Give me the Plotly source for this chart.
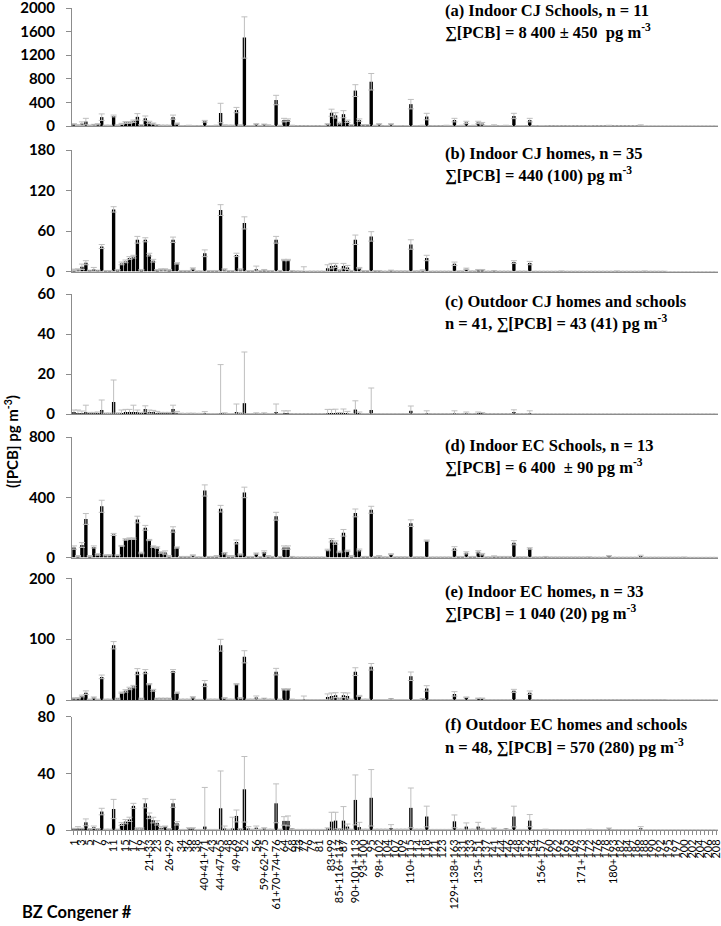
import plotly.graph_objects as go

# ---------------- data ----------------
CATEGORIES = [
    "1", "2", "3", "4", "5", "6", "7", "8", "9", "10",
    "11", "12+13", "14", "15", "16", "17", "18+30", "19", "20+28", "21+33",
    "22", "23", "24+27", "25", "26+29", "31", "32", "34", "35", "36",
    "37", "38", "39", "40+41+71", "42", "43", "45+51", "44+47+65", "46", "48",
    "50+53", "49+69", "54", "52", "55", "57", "56", "58", "59+62+75", "60",
    "63", "61+70+74+76", "66", "64", "67", "68", "72", "73", "77", "78",
    "79", "80", "81", "82", "84", "83+99", "88+91", "85+116+117", "87", "89",
    "92", "90+101+113", "94", "93+100", "96", "95", "103", "98+102", "97", "104",
    "105", "107", "106", "109", "111", "110+115", "112", "114", "120", "118",
    "122", "121", "126", "123", "128+166", "130", "129+138+163", "127", "131", "132",
    "133", "134+143", "135+151", "136", "137", "139+140", "141", "142", "144", "145",
    "146", "147+149", "148", "150", "152", "153+168", "154", "155", "156+157", "158",
    "160", "159", "162", "161", "165", "164", "169", "167", "171+173", "170",
    "172", "174", "176", "175", "178", "177", "180+193", "179", "182", "181",
    "184", "183+185", "186", "187", "188", "189", "190", "191", "192", "194",
    "195", "196", "197", "198+199", "200", "201", "202", "203", "204", "205",
    "206", "207", "208",
]

TICK_LABELS = [
    "1", "3", "5", "7", "9", "11", "15", "17", "19", "21+33", "23", "26+29",
    "34", "36", "38", "40+41+71", "43", "44+47+65", "48", "49+69", "52", "56",
    "59+62+75", "61+70+74+76", "64", "68", "73", "77", "79", "81", "83+99",
    "85+116+117", "87", "90+101+113", "93+100", "95", "98+102", "104", "107",
    "109", "110+115", "114", "118", "121", "123", "129+138+163", "131", "133",
    "135+151", "137", "141", "144", "146", "148", "152", "154", "156+157", "160",
    "162", "165", "169", "171+173", "172", "176", "178", "180+193", "182", "184",
    "186", "188", "190", "192", "195", "197", "200", "202", "204", "206", "208",
]

A_MEAN = [30, 15, 40, 75, 10, 20, 30, 150, 10, 10,
          170, 15, 35, 60, 60, 80, 155, 20, 130, 60,
          40, 20, 10, 10, 10, 150, 40, 5, 3, 10,
          5, 3, 3, 80, 5, 5, 10, 220, 15, 10,
          10, 270, 15, 1500, 5, 5, 30, 5, 25, 15,
          5, 440, 10, 100, 100, 10, 3, 2, 2, 2,
          3, 2, 2, 5, 30, 225, 180, 50, 200, 80,
          20, 600, 100, 20, 20, 750, 10, 30, 3, 5,
          30, 5, 5, 3, 5, 370, 5, 3, 10, 160,
          3, 3, 2, 2, 10, 5, 100, 5, 10, 60,
          5, 10, 60, 40, 5, 5, 15, 3, 5, 10,
          5, 170, 5, 5, 3, 100, 3, 2, 5, 3,
          1, 1, 2, 1, 1, 2, 1, 1, 2, 1,
          3, 1, 1, 1, 1, 8, 1, 1, 1, 1,
          1, 1, 1, 15, 0, 0, 0, 0, 0, 0,
          0, 0, 0, 0, 0, 0, 0, 0, 0, 0,
          0, 0, 0]
A_ERR = [10, 8, 30, 55, 5, 8, 10, 55, 5, 5,
         15, 5, 10, 15, 15, 20, 55, 5, 40, 20,
         10, 5, 5, 5, 5, 35, 10, 2, 2, 3,
         2, 2, 2, 15, 2, 2, 5, 165, 5, 5,
         5, 45, 5, 350, 2, 2, 10, 2, 8, 5,
         2, 80, 3, 30, 20, 3, 1, 1, 1, 1,
         1, 1, 1, 2, 10, 60, 45, 15, 60, 20,
         5, 100, 20, 5, 5, 140, 3, 10, 1, 2,
         10, 2, 2, 1, 2, 80, 2, 1, 3, 55,
         1, 1, 1, 1, 3, 2, 30, 2, 3, 20,
         2, 3, 20, 20, 2, 2, 5, 1, 2, 3,
         2, 45, 2, 2, 1, 30, 1, 1, 2, 1,
         1, 1, 1, 1, 1, 1, 1, 1, 1, 1,
         2, 1, 1, 1, 1, 4, 1, 1, 1, 1,
         1, 1, 1, 5, 0, 0, 0, 0, 0, 0,
         0, 0, 0, 0, 0, 0, 0, 0, 0, 0,
         0, 0, 0]

B_MEAN = [2.5, 3, 7, 13, 1, 3, 1, 37, 1, 1,
          92, 2, 12, 15, 20, 22, 47, 2, 47, 25,
          16, 2, 3, 3, 2, 47, 12, 1, 1, 1,
          4.4, 0.5, 0.5, 27, 1, 1, 1, 91, 3, 1,
          1, 24.6, 3, 72, 1, 1, 3.5, 1, 2, 1,
          1, 47, 1, 17, 17, 1, 0.5, 0.5, 0.5, 0.3,
          0.3, 0.3, 0.3, 0.3, 5, 8, 9, 2, 8, 6,
          1, 47, 5, 1, 1, 52, 1, 1, 0.3, 0.3,
          1.5, 0.5, 0.5, 0.5, 0.5, 40, 0.5, 0.5, 2, 20,
          0.3, 0.3, 0.3, 0.3, 0.3, 0.3, 11.5, 0.5, 0.5, 4,
          0.5, 0.5, 2.5, 2.5, 0.3, 0.3, 1, 0.3, 0.3, 0.3,
          0.3, 14, 0.3, 0.3, 0.3, 12.5, 0.2, 0.2, 0.2, 0.2,
          0.2, 0.2, 0.2, 0.5, 0.2, 0.2, 0.2, 0.2, 0.2, 0.2,
          0.2, 0.2, 0.2, 0.2, 0.2, 0.2, 0.2, 0.5, 0.2, 0.2,
          0.2, 0.2, 0.2, 0.2, 0.5, 0.2, 0.2, 0.2, 0.2, 0.2,
          0, 0, 0, 0, 0, 0, 0, 0, 0, 0,
          0, 0, 0]
B_ERR = [1, 1, 4, 3, 1, 3, 1, 3, 0.5, 0.5,
         4, 1, 2, 2, 2, 2, 5, 1, 3, 2,
         2, 1, 1, 1, 1, 4, 1, 0.5, 0.5, 0.5,
         1, 0.5, 0.5, 5, 0.5, 0.5, 0.5, 8, 1, 0.5,
         0.5, 2.5, 1, 9, 0.5, 0.5, 4.5, 0.5, 1, 0.5,
         0.5, 5, 0.5, 1, 1, 0.5, 0.3, 0.3, 6.5, 0.3,
         0.3, 0.3, 0.3, 0.3, 5, 4, 3, 1, 4, 3,
         0.5, 7, 1, 0.5, 0.5, 7, 0.5, 0.5, 0.3, 0.3,
         0.5, 0.5, 0.5, 0.5, 0.5, 7, 0.5, 0.5, 0.5, 4,
         0.3, 0.3, 0.3, 0.3, 0.3, 0.3, 2.5, 0.5, 0.5, 1,
         0.5, 0.5, 0.5, 0.5, 0.3, 0.3, 0.3, 0.3, 0.3, 0.3,
         0.3, 2, 0.3, 0.3, 0.3, 2.5, 0.2, 0.2, 0.2, 0.2,
         0.2, 0.2, 0.2, 0.5, 0.2, 0.2, 0.2, 0.2, 0.2, 0.2,
         0.2, 0.2, 0.2, 0.2, 0.2, 0.2, 0.2, 0.5, 0.2, 0.2,
         0.2, 0.2, 0.2, 0.2, 0.5, 0.2, 0.2, 0.2, 0.2, 0.2,
         0, 0, 0, 0, 0, 0, 0, 0, 0, 0,
         0, 0, 0]

C_MEAN = [0.8, 0.5, 0.5, 0.8, 0.3, 0.3, 0.3, 2, 0.2, 0.2,
          6, 0.3, 0.5, 0.8, 0.8, 1, 0.8, 0.3, 2.5, 1,
          0.8, 0.5, 0.3, 0.3, 0.3, 2.5, 0.5, 0.2, 0.1, 0.2,
          0.2, 0.1, 0.1, 0.3, 0.1, 0.1, 0.1, 0.5, 0.3, 0.1,
          0.1, 1, 0.3, 5.4, 0.1, 0.1, 0.3, 0.1, 0.3, 0.1,
          0.1, 1, 0.1, 0.4, 0.4, 0.05, 0.05, 0.05, 0.05, 0.05,
          0.05, 0.05, 0.05, 0.05, 0.3, 0.5, 0.4, 0.2, 0.5, 0.3,
          0.1, 2.2, 0.3, 0.1, 0.1, 2, 0.1, 0.1, 0.1, 0.1,
          0.1, 0.1, 0.1, 0.1, 0.1, 1.6, 0.1, 0.1, 0.1, 0.5,
          0.05, 0.05, 0.05, 0.05, 0.05, 0.05, 0.5, 0.05, 0.05, 0.3,
          0.05, 0.05, 0.3, 0.2, 0.05, 0.05, 0.05, 0.05, 0.05, 0.05,
          0.05, 0.8, 0.05, 0.05, 0.05, 0.5, 0, 0, 0, 0,
          0, 0, 0, 0, 0, 0, 0, 0, 0, 0,
          0, 0, 0, 0, 0, 0, 0, 0, 0, 0,
          0, 0, 0, 0, 0, 0, 0, 0, 0, 0,
          0, 0, 0, 0, 0, 0, 0, 0, 0, 0,
          0, 0, 0]
C_ERR = [1.2, 1.5, 1, 3.6, 0.5, 0.5, 0.7, 5, 0.3, 0.3,
         11, 0.3, 1.5, 1.5, 1.5, 3.4, 1.2, 0.5, 1.6, 1,
         1, 0.8, 0.5, 0.5, 0.5, 1.9, 0.8, 0.2, 0.2, 0.2,
         0.2, 0.2, 0.2, 0.9, 0.1, 0.1, 0.1, 24.2, 0.3, 0.1,
         0.1, 4, 0.3, 25.6, 0.1, 0.1, 0.3, 0.1, 0.3, 0.1,
         0.1, 4, 0.1, 1.2, 1.2, 0.1, 0.1, 0.1, 0.1, 0.1,
         0.1, 0.1, 0.1, 0.1, 2, 1.8, 2, 0.5, 2, 1,
         0.1, 4.4, 0.7, 0.1, 0.1, 11, 0.1, 0.1, 0.1, 0.1,
         0.1, 0.1, 0.1, 0.1, 0.1, 2.4, 0.1, 0.1, 0.1, 1.1,
         0.1, 0.1, 0.1, 0.1, 0.1, 0.1, 1.1, 0.1, 0.1, 0.7,
         0.1, 0.1, 0.7, 0.5, 0.1, 0.1, 0.1, 0.1, 0.1, 0.1,
         0.1, 1.3, 0.1, 0.1, 0.1, 1.1, 0, 0, 0, 0,
         0, 0, 0, 0, 0, 0, 0, 0, 0, 0,
         0, 0, 0, 0, 0, 0, 0, 0, 0, 0,
         0, 0, 0, 0, 0, 0, 0, 0, 0, 0,
         0, 0, 0, 0, 0, 0, 0, 0, 0, 0,
         0, 0, 0]

D_MEAN = [66, 10, 83, 256, 10, 70, 20, 340, 15, 15,
          153, 15, 77, 120, 125, 125, 252, 30, 197, 116,
          72, 66, 33, 33, 10, 186, 66, 5, 5, 5,
          15, 3, 3, 445, 5, 5, 10, 324, 28, 10,
          10, 103, 20, 432, 5, 5, 26, 5, 37, 10,
          5, 274, 5, 66, 66, 5, 2, 2, 2, 2,
          2, 2, 2, 2, 50, 114, 99, 37, 164, 44,
          10, 296, 50, 5, 5, 317, 5, 10, 3, 3,
          22, 3, 3, 3, 3, 228, 3, 3, 3, 112,
          2, 2, 2, 2, 2, 2, 60, 5, 5, 31,
          5, 5, 38, 22, 3, 3, 9, 5, 5, 5,
          5, 98, 3, 3, 3, 60, 2, 2, 2, 5,
          2, 2, 2, 2, 2, 2, 2, 2, 2, 2,
          3, 1, 1, 1, 1, 8, 1, 1, 1, 1,
          1, 1, 1, 8, 1, 1, 1, 1, 1, 1,
          1, 1, 1, 1, 2, 0.5, 0.5, 0.5, 0.5, 0.5,
          0.5, 0.5, 0.5]
D_ERR = [11, 3, 16, 36, 3, 7, 5, 40, 4, 4,
         7, 3, 3, 5, 5, 5, 22, 5, 16, 4,
         5, 5, 5, 11, 3, 18, 4, 2, 2, 2,
         3, 1, 1, 37, 2, 2, 3, 22, 5, 3,
         3, 13, 4, 35, 2, 2, 4, 2, 7, 3,
         2, 26, 2, 11, 11, 2, 1, 1, 1, 1,
         1, 1, 1, 1, 5, 11, 11, 5, 22, 5,
         3, 26, 6, 2, 2, 23, 2, 3, 1, 1,
         3, 1, 1, 1, 1, 22, 1, 1, 1, 4,
         1, 1, 1, 1, 1, 1, 12, 2, 2, 7,
         2, 2, 7, 5, 1, 1, 2, 2, 2, 2,
         2, 14, 1, 1, 1, 5, 1, 1, 1, 2,
         1, 1, 1, 1, 1, 1, 1, 1, 1, 1,
         1, 0.5, 0.5, 0.5, 0.5, 5, 0.5, 0.5, 0.5, 0.5,
         0.5, 0.5, 0.5, 7, 0.5, 0.5, 0.5, 0.5, 0.5, 0.5,
         0.5, 0.5, 0.5, 0.5, 1, 0.5, 0.5, 0.5, 0.5, 0.5,
         0.5, 0.5, 0.5]

E_MEAN = [2.7, 3, 6.6, 12, 1, 4, 1, 38, 1, 1,
          90, 2, 12, 15, 19, 22, 46.6, 2, 46.6, 26,
          16, 2, 2, 2, 2, 47.7, 12, 1, 1, 1,
          4.4, 0.5, 0.5, 27, 1, 1, 1, 90, 3, 1,
          1, 26, 3, 71, 1, 1, 4, 1, 2, 1,
          1, 46.6, 1, 17.5, 17.5, 1, 0.5, 0.5, 0.5, 0.3,
          0.3, 0.3, 0.3, 0.3, 5, 6.6, 8, 2, 8, 6.6,
          1, 46.6, 6.6, 1, 1, 54.6, 0.5, 0.5, 0.5, 0.5,
          1.6, 0.5, 0.5, 0.5, 0.5, 39, 0.5, 0.5, 2, 19,
          0.3, 0.3, 0.3, 0.3, 0.3, 0.3, 10, 0.5, 0.5, 4.4,
          0.5, 0.5, 2.7, 2.7, 0.3, 0.3, 0.3, 0.3, 0.3, 0.3,
          0.3, 15, 0.3, 0.3, 0.3, 12, 0.2, 0.2, 0.2, 0.2,
          0.2, 0.2, 0.2, 0.2, 0.2, 0.2, 0.2, 0.2, 0.2, 0.2,
          0.2, 0.2, 0.2, 0.2, 0.2, 0.2, 0.2, 0.2, 0.2, 0.2,
          0.2, 0.2, 0.2, 0.2, 0.2, 0.2, 0.2, 0.2, 0.2, 0.2,
          0, 0, 0, 0, 0, 0, 0, 0, 0, 0,
          0, 0, 0]
E_ERR = [1, 1, 1.4, 3, 0.5, 1, 0.5, 3, 0.5, 0.5,
         6, 1, 1, 2, 2, 2, 5, 1, 3.4, 1,
         1.5, 1, 1, 1, 1, 2.3, 1, 0.5, 0.5, 0.5,
         1.1, 0.5, 0.5, 5, 0.5, 0.5, 0.5, 9.7, 1, 0.5,
         0.5, 1, 1, 10, 0.5, 0.5, 2.6, 0.5, 1, 0.5,
         0.5, 5.4, 0.5, 1, 1, 0.5, 0.3, 0.3, 6, 0.3,
         0.3, 0.3, 0.3, 0.3, 5, 5, 4, 1, 4, 5,
         0.5, 6.4, 1, 0.5, 0.5, 5.4, 0.3, 0.3, 0.3, 0.3,
         0.5, 0.3, 0.3, 0.3, 0.3, 7, 0.3, 0.3, 0.5, 4.5,
         0.3, 0.3, 0.3, 0.3, 0.3, 0.3, 3.7, 0.3, 0.3, 0.6,
         0.3, 0.3, 0.5, 0.5, 0.3, 0.3, 0.3, 0.3, 0.3, 0.3,
         0.3, 2.5, 0.3, 0.3, 0.3, 2.8, 0.2, 0.2, 0.2, 0.2,
         0.2, 0.2, 0.2, 0.2, 0.2, 0.2, 0.2, 0.2, 0.2, 0.2,
         0.2, 0.2, 0.2, 0.2, 0.2, 0.2, 0.2, 0.2, 0.2, 0.2,
         0.2, 0.2, 0.2, 0.2, 0.2, 0.2, 0.2, 0.2, 0.2, 0.2,
         0, 0, 0, 0, 0, 0, 0, 0, 0, 0,
         0, 0, 0]

F_MEAN = [0.5, 0.5, 0.5, 5.4, 0.5, 1.9, 0.5, 13, 0.3, 0.3,
          14.8, 0.3, 4.2, 5.9, 7.5, 17, 1, 1, 18.8, 10,
          7, 5, 1.5, 2.5, 0.5, 18.8, 4.7, 0.2, 0.2, 0.5,
          0.5, 0.2, 0.2, 2.4, 0.2, 0.2, 0.2, 15.3, 0.5, 0.3,
          0.5, 9.9, 0.5, 28.7, 1, 0.3, 1.6, 0.3, 0.5, 0.3,
          0.3, 18.8, 0.3, 6.4, 6.4, 0.5, 0.2, 0.2, 0.2, 0.2,
          0.2, 0.2, 0.2, 0.2, 0.5, 5.9, 6.6, 0.5, 6.6, 2.4,
          0.3, 21.2, 2, 0.3, 0.3, 22.7, 0.3, 0.3, 0.3, 0.3,
          1.4, 0.3, 0.3, 0.3, 0.3, 15.6, 0.3, 0.3, 0.3, 9.5,
          0.2, 0.2, 0.2, 0.2, 0.2, 0.2, 6.1, 0.3, 0.3, 2.4,
          0.3, 0.3, 2.4, 0.7, 0.2, 0.2, 0.7, 0.2, 0.2, 0.4,
          0.2, 9.5, 0.2, 0.2, 0.2, 6.6, 0.1, 0.1, 0.1, 0.3,
          0.1, 0.1, 0.1, 0.1, 0.1, 0.1, 0.1, 0.1, 0.1, 0.1,
          0.3, 0.1, 0.1, 0.1, 0.1, 0.7, 0.1, 0.1, 0.1, 0.1,
          0.1, 0.1, 0.1, 1.2, 0, 0, 0, 0, 0, 0,
          0, 0, 0, 0, 0, 0, 0, 0, 0, 0,
          0, 0, 0]
F_ERR = [0.7, 1.9, 0.8, 2.4, 0.5, 0.9, 0.5, 2.3, 0.3, 0.3,
         6.8, 0.3, 1, 1.5, 1.5, 1.8, 0.5, 0.5, 3.2, 2,
         2, 1.5, 1, 0.3, 0.5, 2.8, 1.2, 0.2, 0.2, 1.1,
         1.1, 0.2, 0.2, 27.6, 0.2, 0.2, 0.2, 26.3, 2.3, 0.3,
         8.5, 4.2, 0.5, 23.1, 1.4, 0.3, 1.2, 0.3, 1.1, 0.3,
         0.3, 13.7, 0.3, 3, 3.5, 0.3, 0.2, 0.2, 0.2, 0.2,
         0.2, 0.2, 0.2, 0.2, 1, 6.6, 5.9, 0.5, 9.9, 1.8,
         0.3, 17.6, 3.4, 0.3, 0.3, 19.9, 0.3, 0.3, 0.3, 0.3,
         2.4, 0.3, 0.3, 0.3, 0.3, 14, 0.3, 0.3, 0.3, 7.3,
         0.2, 0.2, 0.2, 0.2, 0.2, 0.2, 4.5, 0.3, 0.3, 2.6,
         0.3, 0.3, 3, 0.5, 0.2, 0.2, 0.7, 0.2, 0.2, 0.3,
         0.2, 7.3, 0.2, 0.2, 0.2, 4.3, 0.1, 0.1, 0.1, 0.3,
         0.1, 0.1, 0.1, 0.1, 0.1, 0.1, 0.1, 0.1, 0.1, 0.1,
         0.3, 0.1, 0.1, 0.1, 0.1, 0.7, 0.1, 0.1, 0.1, 0.1,
         0.1, 0.1, 0.1, 1.2, 0, 0, 0, 0, 0, 0,
         0, 0, 0, 0, 0, 0, 0, 0, 0, 0,
         0, 0, 0]

TITLE_LINE1 = [
    "(a) Indoor CJ Schools, n = 11",
    "(b) Indoor CJ homes, n = 35",
    "(c) Outdoor CJ homes and schools",
    "(d) Indoor EC Schools, n = 13",
    "(e) Indoor EC homes, n = 33",
    "(f) Outdoor EC homes and schools",
]
TITLE_LINE2 = [
    "∑[PCB] = 8 400 ± 450  pg m<sup>-3</sup>",
    "∑[PCB] = 440 (100) pg m<sup>-3</sup>",
    "n = 41, ∑[PCB] = 43 (41) pg m<sup>-3</sup>",
    "∑[PCB] = 6 400  ± 90 pg m<sup>-3</sup>",
    "∑[PCB] = 1 040 (20) pg m<sup>-3</sup>",
    "n = 48, ∑[PCB] = 570 (280) pg m<sup>-3</sup>",
]
Y_MAX = [2000, 180, 60, 800, 200, 80]
Y_TICKS = [[0, 400, 800, 1200, 1600, 2000], [0, 60, 120, 180], [0, 20, 40, 60],
           [0, 400, 800], [0, 100, 200], [0, 40, 80]]
MEANS = [A_MEAN, B_MEAN, C_MEAN, D_MEAN, E_MEAN, F_MEAN]
ERRS = [A_ERR, B_ERR, C_ERR, D_ERR, E_ERR, F_ERR]

# ---------------- layout geometry (pixels) ----------------
W, H = 721, 926
ML, MR, MT, MB = 72, 3, 0, 96
PLOT_W = W - ML - MR
PLOT_H = H - MT - MB  # 830
# (top_px, zero_px) for each panel
PANEL_PX = [(8, 126), (150, 271.5), (294, 414), (437, 557.5), (578.3, 700), (716.5, 830)]
LINE1_PX = [11, 154, 301, 445, 591, 724]
LINE2_PX = [32, 175, 322, 467, 612, 746]

GRAY = "#8C8C8C"
ERR_GRAY = "#BFBFBF"
SERIF = "Liberation Serif, Times New Roman, serif"
SANS = "Lato, Open Sans, sans-serif"

fig = go.Figure()
layout_axes = {}
for i in range(6):
    n = "" if i == 0 else str(i + 1)
    top, zero = PANEL_PX[i]
    dom = [(PLOT_H - zero) / PLOT_H, (PLOT_H - top) / PLOT_H]
    fig.add_trace(go.Bar(
        x=CATEGORIES, y=MEANS[i],
        marker=dict(color="black", line=dict(width=0)),
        error_y=dict(type="data", array=ERRS[i], visible=True,
                     color=ERR_GRAY, thickness=1, width=3),
        xaxis="x" + n, yaxis="y" + n, showlegend=False,
    ))
    last = (i == 5)
    xa = dict(domain=[0, 1], anchor="y" + n, type="category",
              categoryorder="array", categoryarray=CATEGORIES,
              range=[-0.5, len(CATEGORIES) - 0.5],
              showline=True, linecolor=GRAY, linewidth=1,
              showgrid=False, zeroline=False, fixedrange=True)
    if last:
        xa.update(tickmode="array", tickvals=CATEGORIES,
                  ticktext=[c if c in TICK_LABELS else "" for c in CATEGORIES],
                  tickangle=-90, ticks="outside", ticklen=4, tickcolor=GRAY,
                  ticklabeloverflow="allow",
                  tickfont=dict(family=SANS, size=11, color="black"))
    else:
        xa.update(showticklabels=False, ticks="", matches="x6")
    ya = dict(domain=dom, anchor="x" + n, range=[0, Y_MAX[i]],
              tickmode="array", tickvals=Y_TICKS[i],
              showline=True, linecolor=GRAY, linewidth=1,
              ticks="outside", ticklen=5, tickcolor=GRAY,
              ticklabelstandoff=8,
              showgrid=False, zeroline=False, ticklabeloverflow="allow",
              tickfont=dict(family=SANS, size=15, color="black", weight="bold"))
    layout_axes["xaxis" + n] = xa
    layout_axes["yaxis" + n] = ya

annotations = []
for i in range(6):
    for txt, ypx in ((TITLE_LINE1[i], LINE1_PX[i]), (TITLE_LINE2[i], LINE2_PX[i])):
        annotations.append(dict(
            text="<b>" + txt + "</b>",
            xref="paper", yref="paper",
            x=(443 - ML) / PLOT_W, y=(PLOT_H - ypx) / PLOT_H,
            xanchor="left", yanchor="middle", align="left", showarrow=False,
            font=dict(family=SERIF, size=16.5, color="black"),
        ))
annotations.append(dict(
    text="<b>([PCB] pg m<sup>-3</sup>)</b>", textangle=-90,
    xref="paper", yref="paper",
    x=(11 - ML) / PLOT_W, y=(PLOT_H - 442) / PLOT_H,
    xanchor="center", yanchor="middle", showarrow=False,
    font=dict(family=SANS, size=15, color="black"),
))
annotations.append(dict(
    text="<b>BZ Congener #</b>",
    xref="paper", yref="paper",
    x=(20 - ML) / PLOT_W, y=(PLOT_H - 912) / PLOT_H,
    xanchor="left", yanchor="middle", showarrow=False,
    font=dict(family=SANS, size=16.5, color="black"),
))

fig.update_layout(
    width=W, height=H,
    margin=dict(l=ML, r=MR, t=MT, b=MB, autoexpand=False),
    paper_bgcolor="white", plot_bgcolor="white",
    bargap=0.15,
    annotations=annotations,
    **layout_axes,
)

fig.write_html(
    "out.html",
    config={"displayModeBar": False},
    post_script="document.body.style.margin='0px';document.body.style.padding='0px';",
)
